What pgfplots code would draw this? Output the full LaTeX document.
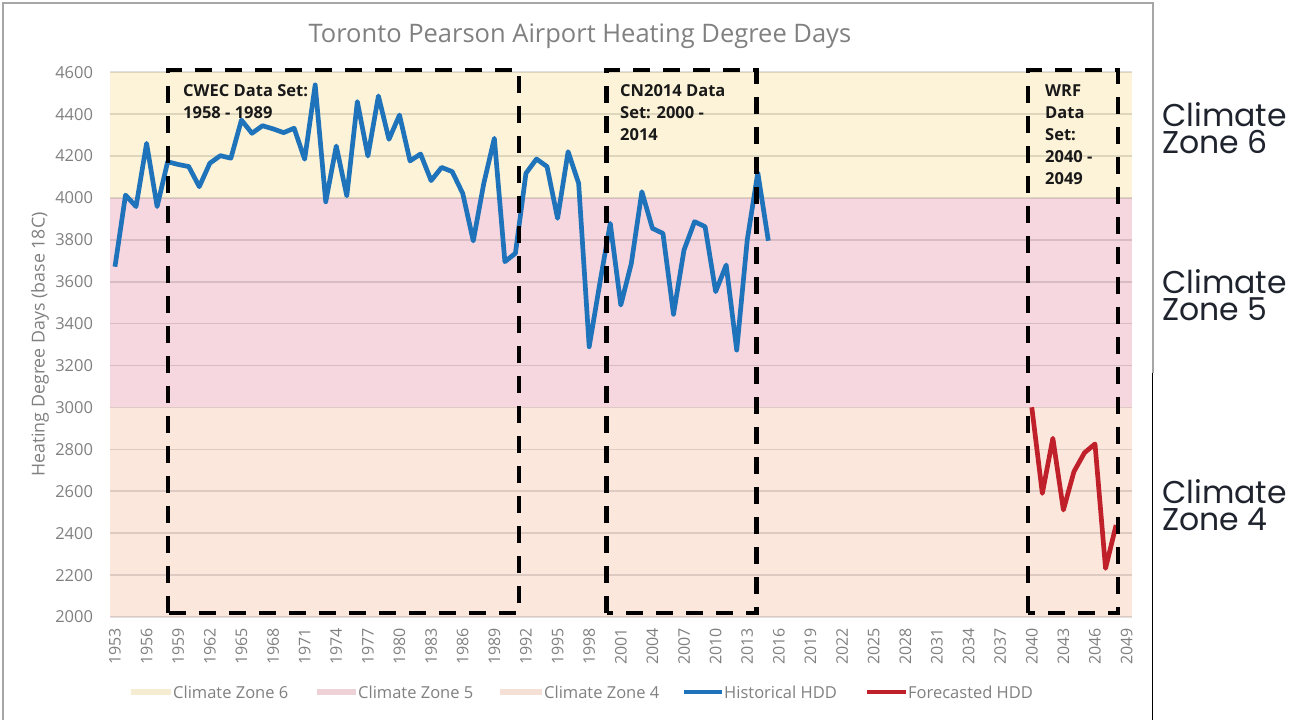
\documentclass[border=0pt]{standalone}
\usepackage{fontspec}
\setmainfont{Open Sans}
\newfontfamily\zonefont{Poppins}
\usepackage{pgfplots}
\usepackage{pgfplotstable}
\pgfplotsset{compat=1.18}

\definecolor{zsix}{RGB}{253,243,216}
\definecolor{zfive}{RGB}{246,215,223}
\definecolor{zfour}{RGB}{252,231,221}
\definecolor{histblue}{RGB}{30,115,186}
\definecolor{forered}{RGB}{192,32,42}
\definecolor{txtgray}{RGB}{128,128,128}
\definecolor{zonetxt}{RGB}{30,35,45}

\pgfplotstableread{
year hdd
1953 3672
1954 4014
1955 3959
1956 4261
1957 3959
1958 4173
1959 4160
1960 4150
1961 4054
1962 4166
1963 4202
1964 4190
1965 4372
1966 4309
1967 4345
1968 4330
1969 4312
1970 4333
1971 4185
1972 4540
1973 3982
1974 4248
1975 4010
1976 4460
1977 4200
1978 4487
1979 4280
1980 4396
1981 4177
1982 4210
1983 4083
1984 4146
1985 4126
1986 4022
1987 3795
1988 4070
1989 4285
1990 3696
1991 3736
1992 4118
1993 4186
1994 4150
1995 3903
1996 4221
1997 4070
1998 3290
1999 3590
2000 3879
2001 3489
2002 3688
2003 4030
2004 3855
2005 3831
2006 3445
2007 3752
2008 3887
2009 3863
2010 3553
2011 3680
2012 3274
2013 3800
2014 4121
2015 3796
}\histtable

\pgfplotstableread{
year hdd
2040 3001
2041 2590
2042 2853
2043 2511
2044 2694
2045 2784
2046 2826
2047 2232
2048 2439
}\foretable

\begin{document}
\begin{tikzpicture}
% outer frame
\draw[line width=1.5pt, color=black!35] (3pt,0pt) -- (3pt,717pt) -- (1153pt,717pt) -- (1153pt,347pt);
\draw[line width=1.5pt, black] (1152.5pt,347pt) -- (1152.5pt,0pt);

\begin{axis}[
  set layers,
  scale only axis, width=1022.3pt, height=544.7pt,
  at={(109.7pt,103pt)}, anchor=south west,
  xmin=1952.5, xmax=2049.5, ymin=2000, ymax=4600,
  clip=false,
  axis line style={draw=none},
  major tick length=0pt,
  ytick={2000,2200,...,4600},
  xtick={1953,1956,...,2049},
  ymajorgrids,
  grid style={black, opacity=0.12, line width=1.6pt},
  /pgf/number format/assume math mode=true,
  /pgf/number format/1000 sep={},
  yticklabel style={anchor=east, inner sep=0pt, xshift=-16.5pt, font=\fontsize{16.5}{19}\selectfont, text=txtgray},
  xticklabel style={yshift=-11pt, rotate=90, anchor=east, inner sep=0pt, font=\fontsize{16}{19}\selectfont, text=txtgray},
  title={Toronto Pearson Airport Heating Degree Days},
  title style={at={(axis description cs:0.46,1)}, anchor=south, yshift=17pt, inner sep=0pt, font=\fontsize{25.5}{30}\selectfont, text=txtgray},
  ylabel={Heating Degree Days (base 18C)},
  ylabel style={at={(axis description cs:-0.0682,0.5)}, anchor=center, inner sep=0pt, font=\fontsize{17.8}{21}\selectfont, text=txtgray},
]
% climate zone bands
\addplot[on layer=axis background, draw=none, fill=zfour] coordinates {(1952.5,2000) (2049.5,2000) (2049.5,3000) (1952.5,3000)};
\addplot[on layer=axis background, draw=none, fill=zfive] coordinates {(1952.5,3000) (2049.5,3000) (2049.5,4000) (1952.5,4000)};
\addplot[on layer=axis background, draw=none, fill=zsix] coordinates {(1952.5,4000) (2049.5,4000) (2049.5,4600) (1952.5,4600)};

% series
\addplot[color=histblue, line width=4.7pt, line join=round, no markers] table[x=year, y=hdd] {\histtable};
\addplot[color=forered, line width=4.7pt, line join=round, no markers] table[x=year, y=hdd] {\foretable};

% dashed data-set boxes
\draw[black, line width=4.5pt, dash pattern=on 17pt off 13pt] (axis cs:1958.03,2018) rectangle (axis cs:1991.33,4611);
\draw[black, line width=4.5pt, dash pattern=on 17pt off 13pt] (axis cs:1999.65,2018) rectangle (axis cs:2013.88,4611);
\draw[black, line width=4.5pt, dash pattern=on 17pt off 13pt] (axis cs:2039.65,2018) rectangle (axis cs:2048.19,4611);
\end{axis}

% box labels
\begin{scope}[every node/.style={anchor=base west, inner sep=0pt, font=\fontsize{16.5}{19}\selectfont\bfseries, text=black!90}]
\node at (183pt,623pt) {CWEC Data Set:};
\node at (183pt,601pt) {1958 - 1989};
\node at (620pt,623pt) {CN2014 Data};
\node at (620pt,601pt) {Set: 2000 -};
\node at (620pt,579pt) {2014};
\node at (1045pt,623pt) {WRF};
\node at (1045pt,601pt) {Data};
\node at (1045pt,579pt) {Set:};
\node at (1045pt,557pt) {2040 -};
\node at (1045pt,535pt) {2049};
\end{scope}

% zone labels on the right (base = baseline of the last line)
\begin{scope}[every node/.style={anchor=base west, inner sep=0pt, align=left, font=\zonefont\fontsize{31.5}{27}\selectfont, text=zonetxt}]
\node at (1162pt,566pt) {Climate\\Zone 6};
\node at (1162pt,399pt) {Climate\\Zone 5};
\node at (1162pt,189pt) {Climate\\Zone 4};
\end{scope}

% legend
\begin{scope}[every node/.style={anchor=west, inner sep=0pt, font=\fontsize{16.5}{20}\selectfont, text=txtgray}]
\draw[zsix!97!black, line width=6pt] (131pt,28pt) -- (171pt,28pt);
\node at (173pt,28pt) {Climate Zone 6};
\draw[zfive!97!black, line width=6pt] (317pt,28pt) -- (356pt,28pt);
\node at (358pt,28pt) {Climate Zone 5};
\draw[zfour!97!black, line width=6pt] (500pt,28pt) -- (542pt,28pt);
\node at (544pt,28pt) {Climate Zone 4};
\draw[histblue, line width=4.5pt] (684pt,28pt) -- (722pt,28pt);
\node at (724pt,28pt) {Historical HDD};
\draw[forered, line width=4.5pt] (867pt,28pt) -- (906pt,28pt);
\node at (908pt,28pt) {Forecasted HDD};
\end{scope}

\pgfresetboundingbox
\path[use as bounding box] (0pt,0pt) rectangle (1292pt,720pt);
\end{tikzpicture}
\end{document}
